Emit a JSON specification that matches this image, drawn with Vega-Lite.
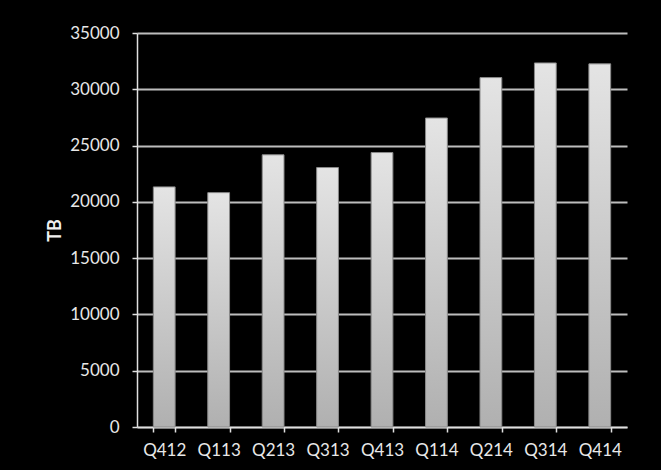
{
  "$schema": "https://vega.github.io/schema/vega-lite/v6.json",
  "width": 490,
  "height": 394,
  "autosize": {"type": "none"},
  "padding": {"left": 137, "top": 33, "right": 34, "bottom": 43},
  "background": "black",
  "data": {
    "values": [
      {"quarter": "Q412", "tb": 21330},
      {"quarter": "Q113", "tb": 20820},
      {"quarter": "Q213", "tb": 24180},
      {"quarter": "Q313", "tb": 23050},
      {"quarter": "Q413", "tb": 24380},
      {"quarter": "Q114", "tb": 27450},
      {"quarter": "Q214", "tb": 31040},
      {"quarter": "Q314", "tb": 32340},
      {"quarter": "Q414", "tb": 32260}
    ]
  },
  "mark": {
    "type": "bar",
    "stroke": "#8a8a8a",
    "strokeWidth": 1,
    "color": {
      "gradient": "linear",
      "x1": 0, "y1": 0, "x2": 0, "y2": 1,
      "stops": [
        {"offset": 0, "color": "#e4e4e4"},
        {"offset": 1, "color": "#b0b0b0"}
      ]
    }
  },
  "encoding": {
    "x": {
      "field": "quarter",
      "type": "nominal",
      "sort": null,
      "scale": {"paddingInner": 0.6, "paddingOuter": 0.3},
      "axis": {
        "title": null,
        "labelAngle": 0,
        "tickBand": "extent",
        "labelFont": "Lato",
        "labelFontSize": 17,
        "labelColor": "#e8e8e8",
        "labelPadding": 10,
        "tickSize": 5,
        "tickColor": "#e0e0e0",
        "tickWidth": 1.5,
        "domainColor": "#e0e0e0",
        "domainWidth": 1.5,
        "grid": false
      }
    },
    "y": {
      "field": "tb",
      "type": "quantitative",
      "scale": {"domain": [0, 35000], "nice": false},
      "axis": {
        "title": "TB",
        "titleFont": "Lato",
        "titleFontSize": 18,
        "titleFontWeight": "bold",
        "titleColor": "#f0f0f0",
        "titlePadding": 5,
        "format": "d",
        "values": [0, 5000, 10000, 15000, 20000, 25000, 30000, 35000],
        "labelFont": "Lato",
        "labelFontSize": 17,
        "labelColor": "#e8e8e8",
        "labelPadding": 13,
        "tickSize": 5,
        "tickColor": "#e0e0e0",
        "tickWidth": 1.5,
        "domainColor": "#e0e0e0",
        "domainWidth": 1.5,
        "grid": true,
        "gridColor": "#bdbdbd",
        "gridWidth": 2
      }
    }
  },
  "config": {"view": {"stroke": null}}
}
